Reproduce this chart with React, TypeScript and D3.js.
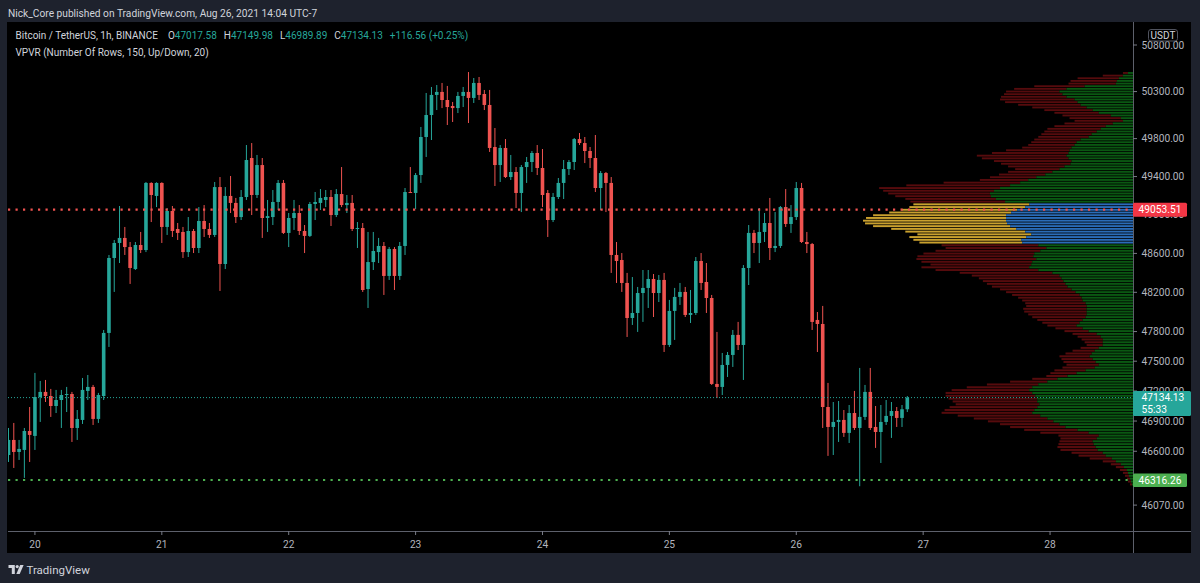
import React from "react";
import * as d3 from "d3";

const HOUR = 3600 * 1000;
const FIRST_BAR = Date.UTC(2021, 7, 19, 19);

// [open, high, low, close] hourly candles, BTC/USDT
const OHLC: [number, number, number, number][] = [
  [46563, 46831, 46494, 46712], [46712, 46881, 46435, 46593], [46593, 46712, 46514, 46623], [46613, 46831, 46337, 46801],
  [46801, 47040, 46494, 46762], [46752, 47382, 46613, 47140], [47140, 47301, 46891, 47191], [47191, 47311, 47090, 47150],
  [47150, 47221, 46941, 47050], [47050, 47211, 46980, 47110], [47110, 47211, 46831, 47160], [47160, 47241, 46990, 47170],
  [47170, 47191, 46692, 46831], [46831, 47010, 46712, 46921], [46911, 47331, 46871, 47211], [47201, 47361, 47110, 47241],
  [47241, 47261, 46861, 46921], [46921, 47181, 46881, 47160], [47150, 47816, 47110, 47786], [47786, 48584, 47644, 48553],
  [48553, 48739, 48204, 48708], [48708, 49092, 48501, 48760], [48760, 48874, 48584, 48666], [48666, 48718, 48286, 48450],
  [48439, 48718, 48429, 48687], [48687, 48822, 48604, 48635], [48635, 49343, 48614, 49333], [49333, 49340, 48925, 49207],
  [49197, 49340, 49081, 49333], [49333, 49340, 48708, 48874], [48874, 49071, 48791, 49040], [49040, 49092, 48770, 48832],
  [48853, 48915, 48739, 48812], [48822, 48874, 48553, 48614], [48614, 48977, 48563, 48832], [48832, 48853, 48604, 48656],
  [48656, 49081, 48604, 48936], [48936, 49102, 48770, 48853], [48853, 48915, 48760, 48791], [48791, 49343, 48770, 49290],
  [49290, 49395, 48214, 48491], [48491, 49290, 48439, 49197], [49197, 49406, 49019, 49124], [49124, 49176, 48915, 48977],
  [48977, 49259, 48946, 49186], [49186, 49732, 49155, 49574], [49595, 49753, 48998, 49207], [49207, 49627, 49176, 49521],
  [49521, 49595, 48760, 48967], [48967, 49155, 48822, 48987], [48977, 49259, 48894, 49134], [49134, 49364, 49050, 49333],
  [49333, 49364, 48801, 48812], [48812, 49019, 48666, 48967], [48967, 49155, 48843, 49019], [49019, 49102, 48791, 48832],
  [48832, 48894, 48604, 48781], [48781, 49134, 48770, 49113], [49113, 49238, 48946, 49134], [49124, 49269, 49050, 49176],
  [49155, 49259, 49081, 49186], [49186, 49259, 48884, 48998], [48998, 49269, 48977, 49217], [49217, 49500, 49081, 49102],
  [49102, 49207, 49019, 49124], [49124, 49207, 48832, 48853], [48853, 48925, 48656, 48863], [48863, 48915, 48204, 48224],
  [48234, 48822, 48040, 48511], [48511, 48822, 48429, 48625], [48614, 48760, 48501, 48677], [48677, 48718, 48173, 48368],
  [48368, 48666, 48327, 48646], [48646, 48666, 48224, 48368], [48368, 48718, 48327, 48677], [48677, 49280, 48584, 49238],
  [49238, 49500, 49228, 49228], [49228, 49437, 49060, 49416], [49416, 49923, 49333, 49817], [49817, 50285, 49606, 50050],
  [50050, 50349, 49785, 50264], [50264, 50370, 50103, 50296], [50296, 50392, 50124, 50210], [50210, 50360, 49944, 50135],
  [50146, 50189, 49976, 50124], [50124, 50296, 50071, 50253], [50253, 50349, 50135, 50296], [50296, 50509, 49965, 50232],
  [50232, 50445, 50178, 50392], [50392, 50456, 50210, 50264], [50274, 50317, 50103, 50157], [50157, 50317, 49659, 49701],
  [49711, 49912, 49301, 49521], [49521, 49732, 49343, 49701], [49701, 49795, 49385, 49395], [49395, 49627, 49364, 49448],
  [49448, 49500, 49071, 49228], [49228, 49521, 49029, 49500], [49500, 49606, 49333, 49553], [49553, 49669, 49448, 49648],
  [49648, 49732, 49416, 49490], [49490, 49690, 49081, 49207], [49228, 49259, 48770, 48946], [48946, 49228, 48925, 49186],
  [49186, 49385, 49165, 49333], [49333, 49574, 49165, 49479], [49479, 49574, 49416, 49553], [49553, 49806, 49469, 49795],
  [49795, 49859, 49732, 49753], [49753, 49817, 49542, 49669], [49669, 49711, 49490, 49595], [49595, 49838, 49238, 49280],
  [49280, 49458, 49050, 49437], [49437, 49448, 49029, 49333], [49333, 49395, 48399, 48584], [48584, 48718, 48296, 48522],
  [48532, 48604, 48204, 48296], [48296, 48399, 47745, 47938], [47938, 48357, 47867, 47989], [47989, 48255, 47796, 48193],
  [48193, 48429, 47898, 48245], [48245, 48429, 48040, 48337], [48337, 48388, 47948, 48193], [48193, 48378, 48101, 48327],
  [48327, 48399, 47593, 47664], [47664, 48122, 47644, 48010], [48010, 48245, 47715, 48153], [48153, 48296, 48071, 48204],
  [48204, 48255, 47948, 47969], [47969, 48224, 47887, 47989], [47989, 48563, 47969, 48522], [48522, 48604, 48224, 48296],
  [48306, 48501, 47989, 48142], [48142, 48173, 47261, 47271], [47271, 47796, 47130, 47241], [47241, 47583, 47160, 47462],
  [47462, 47593, 47341, 47563], [47563, 47816, 47442, 47766], [47766, 47898, 47613, 47664], [47664, 48480, 47311, 48450],
  [48450, 48894, 48275, 48812], [48812, 48843, 48604, 48708], [48708, 49071, 48501, 48822], [48822, 49019, 48718, 48915],
  [48915, 49176, 48532, 48656], [48656, 49029, 48614, 48677], [48677, 49092, 48656, 49081], [49081, 49269, 48874, 48905],
  [48905, 49102, 48812, 48977], [48977, 49343, 48946, 49280], [49280, 49333, 48708, 48718], [48718, 48822, 48604, 48697],
  [48697, 48708, 47816, 47898], [47918, 47999, 47593, 47877], [47877, 48061, 46831, 47040], [47040, 47281, 46554, 46841],
  [46841, 47090, 46563, 46891], [46891, 47100, 46692, 46911], [46911, 47010, 46742, 46782], [46782, 47060, 46682, 46980],
  [46980, 47201, 46811, 46831], [46831, 47432, 46255, 46941], [46941, 47261, 46911, 47191], [47191, 47432, 46811, 46831],
  [46841, 47050, 46633, 46791], [46791, 47060, 46484, 46891], [46891, 47110, 46861, 46951], [46951, 47090, 46732, 47000],
  [47000, 47040, 46841, 46931], [46931, 47060, 46841, 47017.57], [47017.58, 47149.98, 46989.89, 47134.13],
];

// Volume profile (150 rows, from highest price row to lowest)
const PROFILE_TOTAL = [
  10, 30, 55, 62, 64, 98, 118, 126, 128, 131, 132, 127, 114, 100, 88, 78, 70, 63, 58, 68,
  78, 85, 88, 91, 94, 98, 101, 104, 110, 126, 140, 155, 150, 138, 131, 124, 117, 124, 133, 142,
  152, 188, 225, 252, 248, 243, 236, 226, 221, 218, 222, 230, 242, 258, 265, 268, 266, 258, 240, 226,
  214, 222, 218, 212, 190, 186, 196, 208, 214, 215, 210, 201, 210, 196, 172, 160, 153, 149, 145, 140,
  132, 126, 120, 114, 110, 107, 106, 109, 108, 104, 100, 95, 90, 85, 77, 68, 60, 55, 51, 48,
  46, 52, 60, 67, 73, 71, 69, 66, 70, 78, 82, 86, 100, 122, 145, 165, 180, 186, 186, 183,
  179, 176, 182, 187, 190, 174, 158, 144, 132, 122, 108, 92, 74, 72, 73, 74, 75, 72, 61, 54,
  43, 30, 22, 17, 13, 10, 8, 6, 5, 3,
];
const PROFILE_UP = [
  5, 10, 14, 16, 17, 48, 66, 73, 70, 66, 58, 55, 52, 46, 40, 34, 22, 12, 10, 20,
  27, 32, 36, 41, 44, 52, 56, 58, 61, 63, 64, 66, 64, 61, 62, 68, 73, 80, 87, 96,
  104, 112, 122, 132, 138, 142, 141, 136, 127, 103, 107, 115, 121, 126, 126, 126, 125, 122, 116, 107,
  101, 106, 111, 110, 94, 86, 92, 98, 99, 96, 100, 101, 103, 94, 80, 73, 71, 69, 67, 65,
  61, 57, 53, 51, 50, 47, 46, 46, 46, 46, 47, 50, 53, 56, 50, 44, 36, 32, 30, 30,
  30, 34, 38, 41, 43, 40, 37, 34, 38, 47, 56, 65, 75, 85, 94, 100, 103, 100, 97, 95,
  95, 93, 95, 98, 100, 92, 85, 79, 73, 67, 55, 44, 34, 36, 40, 39, 37, 35, 30, 27,
  21, 17, 12, 9, 6, 5, 4, 3, 2, 1,
];
const VALUE_AREA_ROWS = [49, 63];

const PRICE_TICKS = [50800, 50300, 49800, 49400, 49000, 48600, 48200, 47800, 47500, 47200, 46900, 46600, 46070];
const DAY_TICKS = [20, 21, 22, 23, 24, 25, 26, 27, 28];
const RESISTANCE = 49053.51;
const SUPPORT = 46316.26;
const COUNTDOWN = "55:33";

const TEAL = "#26a69a";
const RED = "#ef5350";
const TXT = "#d1d4dc";
const AXT = "#b2b5be";
const FONT = "Roboto, 'Liberation Sans', Arial, sans-serif";

export default function App() {
  const W = 1200, H = 583;
  const L = 8, R = 1133, T = 22, B = 531, AXR = 1191, AXB = 553;
  const n = OHLC.length;
  const x = d3.scaleUtc()
    .domain([new Date(FIRST_BAR), new Date(FIRST_BAR + (n - 1) * HOUR)])
    .range([8.5, 907.3]);
  const y = d3.scaleLog().domain([46070, 50800]).range([505.1, 45]);

  const hi = d3.max(OHLC, (d) => d[1]) as number;
  const lo = d3.min(OHLC, (d) => d[2]) as number;
  const rows = PROFILE_TOTAL.length;
  const step = (hi - lo) / rows;
  const xv = d3.scaleLinear().domain([0, d3.max(PROFILE_TOTAL) as number]).range([0, 270]);

  const last = OHLC[n - 1];
  const prevClose = OHLC[n - 2][3];
  const chg = last[3] - prevClose;
  const pct = (chg / prevClose) * 100;
  const bw = 3.6;
  const ohlcLabels: [string, number][] = [["O", last[0]], ["H", last[1]], ["L", last[2]], ["C", last[3]]];

  return (
    <svg width={W} height={H} style={{ position: "absolute", left: 0, top: 0, display: "block" }} fontFamily={FONT}>
      <defs>
        <clipPath id="plotclip"><rect x={L} y={T} width={R - L} height={B - T} /></clipPath>
      </defs>
      <rect x={0} y={0} width={W} height={H} fill="#1e222d" />
      <rect x={L - 1} y={T} width={AXR - L + 1} height={AXB - T} fill="#000000" />

      <text x={8} y={13.5} fill={TXT} fontSize={10.2} dominantBaseline="central">
        Nick_Core published on TradingView.com, Aug 26, 2021 14:04 UTC-7
      </text>

      <g clipPath="url(#plotclip)">
        {/* volume profile */}
        {PROFILE_TOTAL.map((tot, k) => {
          const pTop = hi - k * step;
          const pBot = hi - (k + 1) * step;
          const y0 = y(pTop);
          const y1 = y(pBot);
          const h = Math.max(0.8, y1 - y0 - 0.8);
          const up = PROFILE_UP[k];
          const inVA = k >= VALUE_AREA_ROWS[0] && k <= VALUE_AREA_ROWS[1];
          const wt = xv(tot), wu = xv(up);
          return (
            <g key={"pr" + k}>
              <rect x={R - wt} y={y0} width={wt - wu} height={h} fill={inVA ? "#c9a02e" : "#560b0d"} />
              <rect x={R - wu} y={y0} width={wu} height={h} fill={inVA ? "#2a6cb8" : "#0a5812"} />
            </g>
          );
        })}

        {/* candles */}
        {OHLC.map((d, i) => {
          const t = new Date(FIRST_BAR + i * HOUR);
          const cx = x(t);
          const [o, h, l, c] = d;
          const col = c >= o ? TEAL : RED;
          const top = y(Math.max(o, c));
          const bot = y(Math.min(o, c));
          return (
            <g key={"c" + i}>
              <line x1={cx} x2={cx} y1={y(h)} y2={y(l)} stroke={col} strokeWidth={1} />
              <rect x={cx - bw / 2} y={top} width={bw} height={Math.max(1, bot - top)} fill={col} />
            </g>
          );
        })}

        {/* horizontal levels */}
        <line x1={L} x2={R} y1={y(RESISTANCE)} y2={y(RESISTANCE)} stroke={RED} strokeWidth={2.2} strokeDasharray="2.2 5.3" />
        <line x1={L} x2={R} y1={y(SUPPORT)} y2={y(SUPPORT)} stroke="#4caf50" strokeWidth={2.2} strokeDasharray="2.2 5.3" />
        <line x1={L} x2={R} y1={y(last[3])} y2={y(last[3])} stroke={TEAL} strokeWidth={1} strokeDasharray="1 2" />
      </g>

      {/* legend */}
      <text x={15.5} y={34.5} fill={TXT} fontSize={10} dominantBaseline="central">
        <tspan>Bitcoin / TetherUS, 1h, BINANCE</tspan>
        {ohlcLabels.map(([lab, v], j) => (
          <React.Fragment key={lab}>
            <tspan dx={j === 0 ? 10 : 7} fill={TXT}>{lab}</tspan>
            <tspan fill={TEAL}>{v.toFixed(2)}</tspan>
          </React.Fragment>
        ))}
        <tspan dx={7} fill={TEAL}>
          {(chg >= 0 ? "+" : "") + chg.toFixed(2) + " (" + (pct >= 0 ? "+" : "") + pct.toFixed(2) + "%)"}
        </tspan>
      </text>
      <text x={15.5} y={52.5} fontSize={10} fill={TXT} dominantBaseline="central">
        VPVR (Number Of Rows, 150, Up/Down, 20)
      </text>

      {/* axes frame */}
      <line x1={R + 0.5} x2={R + 0.5} y1={T} y2={AXB} stroke="#5d606b" strokeWidth={1} />
      <line x1={L} x2={AXR} y1={B + 0.5} y2={B + 0.5} stroke="#5d606b" strokeWidth={1} />

      {/* price axis */}
      {PRICE_TICKS.map((p) => (
        <g key={"pt" + p}>
          <line x1={R} x2={R + 4} y1={y(p)} y2={y(p)} stroke="#787b86" />
          <text x={1141.5} y={y(p)} fontSize={10.2} fill={AXT} dominantBaseline="central">{p.toFixed(2)}</text>
        </g>
      ))}

      {/* time axis */}
      {DAY_TICKS.map((d) => {
        const px = x(new Date(Date.UTC(2021, 7, d)));
        return (
          <g key={"dt" + d}>
            <line x1={px} x2={px} y1={B} y2={B + 4} stroke="#787b86" />
            <text x={px} y={544} fontSize={10.2} fill={AXT} textAnchor="middle" dominantBaseline="central">{d}</text>
          </g>
        );
      })}

      {/* price labels */}
      <rect x={R} y={y(RESISTANCE) - 7} width={54} height={14} fill="#f23645" rx={1.5} />
      <text x={R + 27} y={y(RESISTANCE)} fontSize={10.2} fill="#ffffff" textAnchor="middle" dominantBaseline="central">{RESISTANCE.toFixed(2)}</text>

      <rect x={R} y={y(last[3]) - 6.5} width={58} height={25} fill={TEAL} rx={1.5} />
      <text x={1141.5} y={y(last[3]) + 0.3} fontSize={10.2} fill="#ffffff" dominantBaseline="central">{last[3].toFixed(2)}</text>
      <text x={1141.5} y={y(last[3]) + 12} fontSize={10.2} fill="#ffffff" dominantBaseline="central">{COUNTDOWN}</text>

      <rect x={R} y={y(SUPPORT) - 6.5} width={54} height={13.5} fill="#4caf50" rx={1.5} />
      <text x={R + 27} y={y(SUPPORT)} fontSize={10.2} fill="#ffffff" textAnchor="middle" dominantBaseline="central">{SUPPORT.toFixed(2)}</text>

      {/* currency box */}
      <rect x={1148.5} y={29.5} width={29} height={11.5} fill="#000" stroke="#50535e" rx={2.5} />
      <text x={1163} y={35.5} fontSize={10} fill={TXT} textAnchor="middle" dominantBaseline="central">USDT</text>

      {/* TradingView logo */}
      <g fill={TXT}>
        <path d="M8.5 565 h6.3 v9 h-3 v-6 h-3.3 z" />
        <circle cx={17.2} cy={566.6} r={1.6} />
        <path d="M20.2 565 h3.4 l-3.9 9 h-3.4 z" />
      </g>
      <text x={26.5} y={569.5} fontSize={11.5} fill={TXT} dominantBaseline="central">TradingView</text>
    </svg>
  );
}
